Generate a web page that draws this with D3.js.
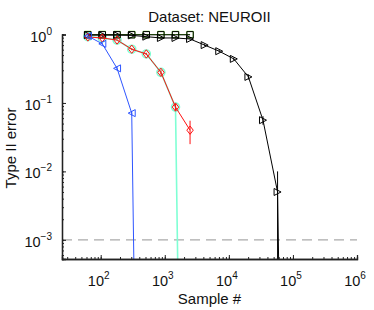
<!DOCTYPE html>
<html>
<head>
<meta charset="utf-8">
<script src="https://cdn.jsdelivr.net/npm/d3@7"></script>
<style>
  body { margin: 0; background: #fff; }
  svg { font-family: "Liberation Sans", Arial, sans-serif; }
</style>
</head>
<body>
<div id="chart"></div>
<script>
// sample sizes shared by every series
const sampleSizes = [63, 106, 180, 305, 515, 870, 1470, 2480, 4190, 7080, 11950, 20200, 34100, 57600, 97200];

// Type II error per method (0 = no error left, drawn as a drop to the axis)
const blueVals  = [0.95, 0.73, 0.32, 0.071, 0];
const blueErr   = [0.01, 0.02, 0.02, 0.005, 0];
const cyanVals  = [0.93, 0.89, 0.83, 0.61, 0.52, 0.28, 0.087, 0];
const cyanErr   = [0.01, 0.01, 0.01, 0.02, 0.02, 0.02, 0.01, 0];
const redVals   = [0.92, 0.89, 0.83, 0.61, 0.52, 0.28, 0.087, 0.040];
const redErr    = [0.01, 0.01, 0.01, 0.02, 0.02, 0.02, 0.01, 0.015];
const greenVals = [1.0, 1.0, 1.0, 1.0, 1.0, 1.0, 1.0, 1.0];
const blackSqVals = [0.99, 0.99, 0.99, 0.99, 0.99, 0.99, 0.99, 0.99];
const blackTriVals = [0.98, 0.98, 0.98, 0.97, 0.93, 0.89, 0.89, 0.86, 0.70, 0.57, 0.44, 0.24, 0.056, 0.005, 0];
const blackTriErr  = [0.005, 0.005, 0.005, 0.01, 0.01, 0.01, 0.01, 0.01, 0.02, 0.02, 0.02, 0.02, 0.008, 0.005, 0];

const alphaLevel = 1e-3;
const xTicks = [1e2, 1e3, 1e4, 1e5, 1e6];
const xTickExp = ['2', '3', '4', '5', '6'];
const yTicks = [1, 1e-1, 1e-2, 1e-3];
const yTickExp = ['0', '\u22121', '\u22122', '\u22123'];

const titleText = 'Dataset: NEUROII';
const xLabel = 'Sample #';
const yLabel = 'Type II error';

const width = 374;
const height = 310;
const margin = { top: 34.5, right: 17, bottom: 51, left: 62 };

const svg = d3.select('#chart').append('svg')
  .attr('width', width)
  .attr('height', height);

const xScale = d3.scaleLog()
  .domain([Math.pow(10, 1.396), 1e6])
  .range([margin.left, width - margin.right]);

const yScale = d3.scaleLog()
  .domain([Math.pow(10, -3.28), 1])
  .range([height - margin.bottom, margin.top]);

const floorVal = 1e-16; // zeros cannot sit on a log axis

svg.append('clipPath').attr('id', 'plotclip')
  .append('rect')
  .attr('x', margin.left)
  .attr('y', margin.top - 10)
  .attr('width', width - margin.left - margin.right + 2)
  .attr('height', height - margin.bottom - margin.top + 10);

// dashed significance line
svg.append('line')
  .attr('x1', xScale.range()[0])
  .attr('x2', xScale.range()[1])
  .attr('y1', yScale(alphaLevel))
  .attr('y2', yScale(alphaLevel))
  .attr('stroke', '#aaaaaa')
  .attr('stroke-width', 1.3)
  .attr('stroke-dasharray', '10,6');

const plot = svg.append('g').attr('clip-path', 'url(#plotclip)');

const line = d3.line()
  .x((d) => xScale(d.x))
  .y((d) => yScale(Math.max(d.y, floorVal)));

function markerPath(shape, s) {
  if (shape === 'square') return `M${-s},${-s}H${s}V${s}H${-s}Z`;
  if (shape === 'diamond') return `M0,${-s * 1.3}L${s},0L0,${s * 1.3}L${-s},0Z`;
  if (shape === 'left') return `M${-s},0L${s},${-s}L${s},${s}Z`;
  if (shape === 'right') return `M${s},0L${-s},${-s}L${-s},${s}Z`;
  return null;
}

function drawSeries(vals, errs, color, shape, size, lw) {
  const pts = vals.map((v, i) => ({ x: sampleSizes[i], y: v, e: errs ? errs[i] : 0 }));
  const g = plot.append('g');

  g.append('path')
    .attr('d', line(pts))
    .attr('fill', 'none')
    .attr('stroke', color)
    .attr('stroke-width', lw);

  g.selectAll('line.err')
    .data(pts.filter((d) => d.y > 0 && d.e > 0))
    .join('line')
    .attr('class', 'err')
    .attr('x1', (d) => xScale(d.x))
    .attr('x2', (d) => xScale(d.x))
    .attr('y1', (d) => yScale(d.y + d.e))
    .attr('y2', (d) => yScale(Math.max(d.y - d.e, floorVal)))
    .attr('stroke', color)
    .attr('stroke-width', lw);

  const mk = pts.filter((d) => d.y > 0);
  if (shape === 'circle') {
    g.selectAll('circle')
      .data(mk)
      .join('circle')
      .attr('cx', (d) => xScale(d.x))
      .attr('cy', (d) => yScale(d.y))
      .attr('r', size)
      .attr('fill', 'none')
      .attr('stroke', color)
      .attr('stroke-width', lw);
  } else {
    g.selectAll('path.mk')
      .data(mk)
      .join('path')
      .attr('class', 'mk')
      .attr('transform', (d) => `translate(${xScale(d.x)},${yScale(d.y)})`)
      .attr('d', markerPath(shape, size))
      .attr('fill', 'none')
      .attr('stroke', color)
      .attr('stroke-width', lw);
  }
}

drawSeries(cyanVals, cyanErr, '#7fffd4', 'circle', 4, 1.6);
drawSeries(greenVals, null, '#66dd22', 'square', 3.2, 1);
drawSeries(blackTriVals, blackTriErr, '#000000', 'right', 3.5, 1);
drawSeries(blackSqVals, null, '#000000', 'square', 3.2, 1);
drawSeries(redVals, redErr, '#ff1111', 'diamond', 3.2, 1);
drawSeries(blueVals, blueErr, '#2e55ff', 'left', 3.5, 1);

// axes (MATLAB style: inward ticks, log minors)
svg.append('g')
  .attr('transform', `translate(0,${height - margin.bottom})`)
  .call(d3.axisBottom(xScale).tickValues(xTicks).tickSize(-4).tickFormat(''));
svg.append('g')
  .attr('transform', `translate(0,${height - margin.bottom})`)
  .call(d3.axisBottom(xScale).ticks(6).tickSize(-2).tickFormat(''));

svg.append('g')
  .attr('transform', `translate(${margin.left},0)`)
  .call(d3.axisLeft(yScale).tickValues(yTicks).tickSize(-4).tickFormat(''));
svg.append('g')
  .attr('transform', `translate(${margin.left},0)`)
  .call(d3.axisLeft(yScale).ticks(4).tickSize(-2).tickFormat(''));

svg.selectAll('.domain').attr('stroke', '#222').attr('stroke-width', 1.3);
svg.selectAll('.tick line').attr('stroke', '#222');

// tick labels
const xl = svg.append('g').selectAll('text')
  .data(xTicks)
  .join('text')
  .attr('x', (d) => xScale(d) - 2)
  .attr('y', height - margin.bottom + 27)
  .attr('text-anchor', 'middle')
  .attr('font-size', 14.5)
  .attr('fill', '#111');
xl.append('tspan').text('10');
xl.append('tspan')
  .attr('font-size', 10)
  .attr('dy', -7)
  .text((d, i) => xTickExp[i]);

const yl = svg.append('g').selectAll('text')
  .data(yTicks)
  .join('text')
  .attr('x', margin.left - 10)
  .attr('y', (d) => yScale(d) + 7)
  .attr('text-anchor', 'end')
  .attr('font-size', 14.5)
  .attr('fill', '#111');
yl.append('tspan').text('10');
yl.append('tspan')
  .attr('font-size', 10)
  .attr('dy', -7)
  .text((d, i) => yTickExp[i]);

// titles
svg.append('text')
  .attr('x', (margin.left + width - margin.right) / 2)
  .attr('y', 22)
  .attr('text-anchor', 'middle')
  .attr('font-size', 15)
  .attr('fill', '#111')
  .text(titleText);

svg.append('text')
  .attr('x', (margin.left + width - margin.right) / 2)
  .attr('y', 304)
  .attr('text-anchor', 'middle')
  .attr('font-size', 15)
  .attr('fill', '#111')
  .text(xLabel);

svg.append('text')
  .attr('transform', `translate(16,148) rotate(-90)`)
  .attr('text-anchor', 'middle')
  .attr('font-size', 15)
  .attr('fill', '#111')
  .text(yLabel);
</script>
</body>
</html>
